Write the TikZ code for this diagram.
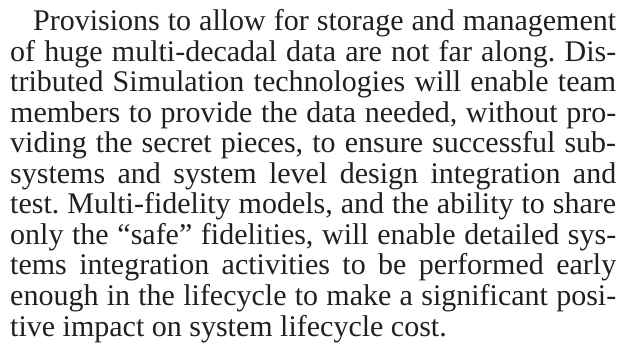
\documentclass[tikz,border=0pt]{standalone}
\usepackage{fontspec}
\setmainfont{Liberation Serif}
\definecolor{inkgray}{HTML}{231F20}
\newlength{\parw}
\setlength{\parw}{606bp}
\newcommand{\fullline}[1]{\makebox[\parw][s]{#1}}
\frenchspacing

\begin{document}
\begin{tikzpicture}[every node/.style={inner sep=0pt, anchor=base west, text=inkgray,
		font=\fontsize{30bp}{30.5bp}\selectfont}]
	\useasboundingbox (0,0) rectangle (624bp,360bp);
	\foreach \txt [count=\i] in {
		{\hspace*{23bp}Provisions to allow for storage and management},
		{of huge multi-decadal data are not far along. Dis-},
		{tributed Simulation technologies will enable team},
		{members to provide the data needed, without pro-},
		{viding the secret pieces, to ensure successful sub-},
		{systems and system level design integration and},
		{test. Multi-fidelity models, and the ability to share},
		{only the “safe” fidelities, will enable detailed sys-},
		{tems integration activities to be performed early},
		{enough in the lifecycle to make a significant posi-}}
	\node (l\i) at (10bp,{329bp-(\i-1)*30.5bp}) {\fullline{\txt}};
	\node (l11) at (10bp,{329bp-10*30.5bp}) {tive impact on system lifecycle cost.};
\end{tikzpicture}
\end{document}
